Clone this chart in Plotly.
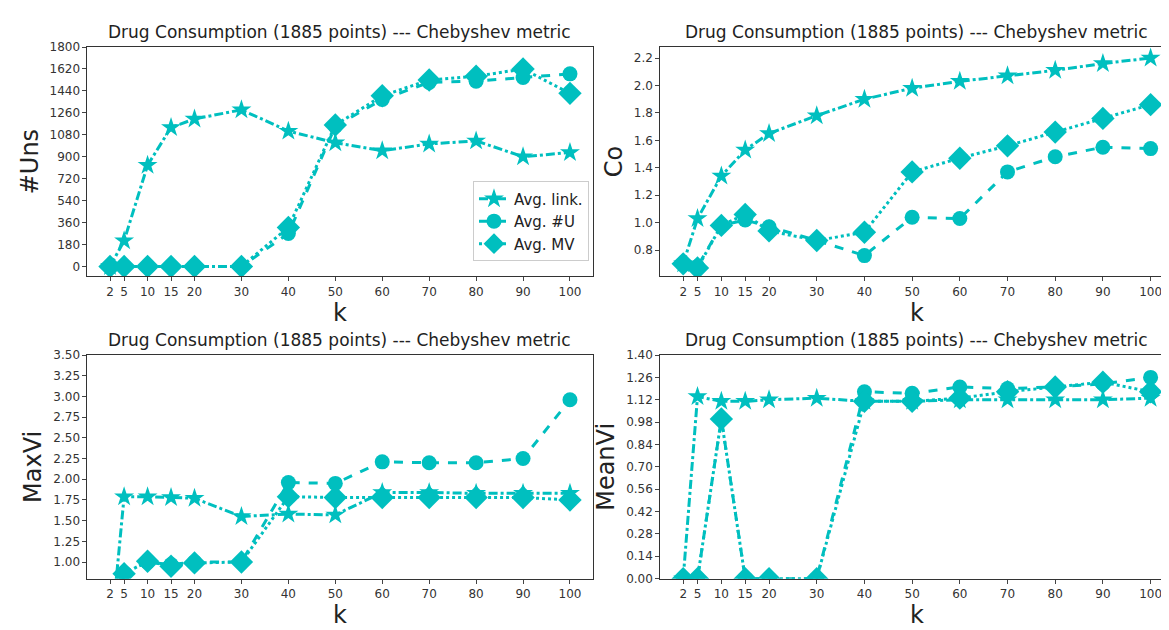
import plotly.graph_objects as go
from plotly.subplots import make_subplots

k = [2, 5, 10, 15, 20, 30, 40, 50, 60, 70, 80, 90, 100]

# #Uns
uns_link = [0, 210, 830, 1140, 1210, 1285, 1110, 1015, 950, 1005, 1030, 900, 935]
uns_u = [0, 0, 0, 0, 0, 0, 270, 1150, 1370, 1510, 1520, 1550, 1580]
uns_mv = [0, 0, 0, 0, 0, 0, 320, 1160, 1400, 1530, 1560, 1620, 1420]

# Co
co_link = [0.70, 1.03, 1.34, 1.53, 1.65, 1.78, 1.90, 1.98, 2.03, 2.07, 2.11, 2.16, 2.20]
co_u = [0.70, 0.68, 0.98, 1.02, 0.97, 0.87, 0.76, 1.04, 1.03, 1.37, 1.48, 1.55, 1.54]
co_mv = [0.70, 0.67, 0.98, 1.06, 0.94, 0.87, 0.93, 1.37, 1.47, 1.56, 1.66, 1.76, 1.86]

# MaxVi
max_link = [0, 1.79, 1.79, 1.78, 1.77, 1.55, 1.58, 1.57, 1.84, 1.84, 1.83, 1.83, 1.83]
max_u = [0, 0.87, 1.00, 0.97, 1.00, 1.00, 1.96, 1.95, 2.21, 2.20, 2.20, 2.25, 2.96]
max_mv = [0, 0.86, 1.01, 0.95, 0.99, 1.00, 1.79, 1.78, 1.78, 1.78, 1.78, 1.78, 1.75]

# MeanVi
mean_link = [0, 1.14, 1.11, 1.11, 1.12, 1.13, 1.11, 1.11, 1.12, 1.12, 1.12, 1.12, 1.13]
mean_u = [0, 0, 1.00, 0, 0, 0, 1.17, 1.16, 1.20, 1.19, 1.20, 1.22, 1.26]
mean_mv = [0, 0, 1.00, 0, 0, 0, 1.11, 1.11, 1.13, 1.17, 1.20, 1.23, 1.17]

color = "#00BFBF"
title = "Drug Consumption (1885 points) --- Chebyshev metric"

fig = make_subplots(rows=2, cols=2, subplot_titles=[title] * 4)

panels = [
    (1, 1, "#Uns", uns_link, uns_u, uns_mv, [-80, 1800], list(range(0, 1801, 180))),
    (1, 2, "Co", co_link, co_u, co_mv, [0.61, 2.28], [0.8, 1.0, 1.2, 1.4, 1.6, 1.8, 2.0, 2.2]),
    (2, 1, "MaxVi", max_link, max_u, max_mv, [0.8, 3.5], [1.0, 1.25, 1.5, 1.75, 2.0, 2.25, 2.5, 2.75, 3.0, 3.25, 3.5]),
    (2, 2, "MeanVi", mean_link, mean_u, mean_mv, [0, 1.4], [round(0.14 * i, 2) for i in range(11)]),
]

for i, (r, c, ylab, yl, yu, ym, yr, yt) in enumerate(panels):
    show = i == 0
    fig.add_trace(go.Scatter(x=k, y=yl, name="Avg. link.", mode="lines+markers", showlegend=show,
                             line=dict(color=color, width=3, dash="dashdot"),
                             marker=dict(symbol="star", size=15, color=color)), row=r, col=c)
    fig.add_trace(go.Scatter(x=k, y=yu, name="Avg. #U", mode="lines+markers", showlegend=show,
                             line=dict(color=color, width=3, dash="dash"),
                             marker=dict(symbol="circle", size=15, color=color)), row=r, col=c)
    fig.add_trace(go.Scatter(x=k, y=ym, name="Avg. MV", mode="lines+markers", showlegend=show,
                             line=dict(color=color, width=3, dash="dot"),
                             marker=dict(symbol="diamond", size=18, color=color)), row=r, col=c)
    if ylab in ("MaxVi", "MeanVi"):
        labels = [f"{v:.2f}" for v in yt]
    elif ylab == "Co":
        labels = [f"{v:.1f}" for v in yt]
    else:
        labels = [str(v) for v in yt]
    fig.update_xaxes(range=[-2.8, 104.8], tickvals=k, title_text="k", title_font_size=24,
                     title_standoff=0, row=r, col=c)
    fig.update_yaxes(range=yr, tickvals=yt, ticktext=labels,
                     title_text=ylab, title_font_size=24, title_standoff=4, row=r, col=c)

fig.update_xaxes(showgrid=False, zeroline=False, showline=True, mirror=True, linecolor="#333",
                 ticks="outside", ticklen=4, tickfont=dict(size=12, color="#333"))
fig.update_yaxes(showgrid=False, zeroline=False, showline=True, mirror=True, linecolor="#333",
                 ticks="outside", ticklen=4, tickfont=dict(size=12, color="#333"))

# subplot positions
fig.update_layout(
    xaxis=dict(domain=[0.068, 0.5]), xaxis2=dict(domain=[0.558, 0.997]),
    xaxis3=dict(domain=[0.068, 0.5]), xaxis4=dict(domain=[0.558, 0.997]),
    yaxis=dict(domain=[0.576, 0.948]), yaxis2=dict(domain=[0.576, 0.948]),
    yaxis3=dict(domain=[0.085, 0.448]), yaxis4=dict(domain=[0.085, 0.448]),
)
for a in fig.layout.annotations:
    a.font = dict(size=17, color="#222")
fig.layout.annotations[0].update(x=0.284, y=0.953)
fig.layout.annotations[1].update(x=0.7775, y=0.953)
fig.layout.annotations[2].update(x=0.284, y=0.453)
fig.layout.annotations[3].update(x=0.7775, y=0.453)

fig.update_layout(
    width=1169, height=630, margin=dict(l=0, r=0, t=0, b=0),
    paper_bgcolor="white", plot_bgcolor="white",
    font=dict(family="DejaVu Sans", color="#222"),
    legend=dict(x=0.497, y=0.60, xanchor="right", yanchor="bottom", bordercolor="#ccc",
                borderwidth=1, font=dict(size=15), bgcolor="rgba(255,255,255,0.9)"),
)

fig.write_html("out.html")
